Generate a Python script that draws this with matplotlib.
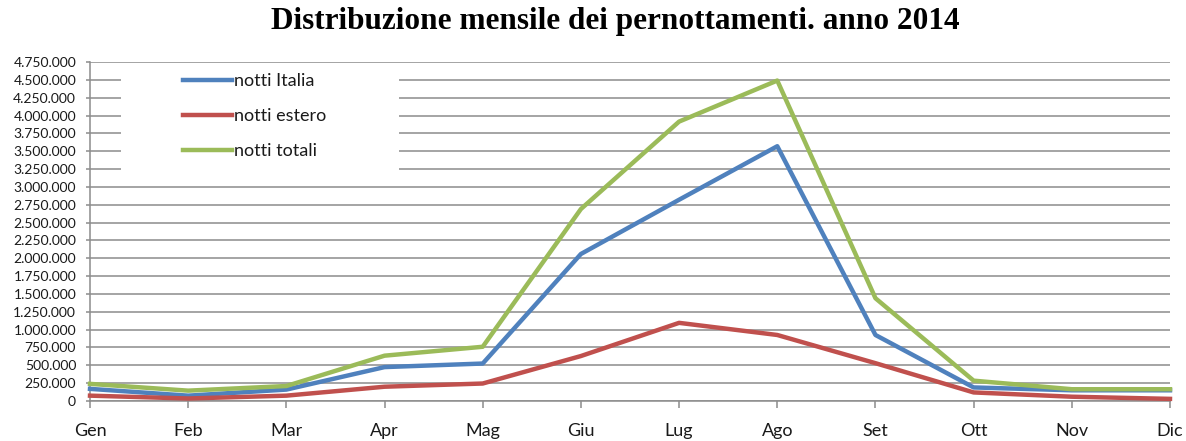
import matplotlib
matplotlib.use('Agg')
import matplotlib.pyplot as plt
from matplotlib.ticker import FuncFormatter, MultipleLocator
from matplotlib.patches import Rectangle

# monthly overnight stays, 2014
mesi = ['Gen', 'Feb', 'Mar', 'Apr', 'Mag', 'Giu', 'Lug', 'Ago', 'Set', 'Ott', 'Nov', 'Dic']
notti_italia = [170000, 75000, 160000, 475000, 525000, 2060000, 2820000, 3570000, 925000, 190000, 150000, 150000]
notti_estero = [75000, 35000, 75000, 200000, 245000, 630000, 1095000, 925000, 530000, 120000, 60000, 30000]
notti_totali = [240000, 145000, 210000, 635000, 760000, 2690000, 3915000, 4490000, 1440000, 285000, 165000, 165000]


def dotted_thousands(v, pos):
    return f"{int(round(v)):,}".replace(",", ".")


def main():
    fig = plt.figure(figsize=(11.86, 4.41), dpi=100)
    ax = fig.add_axes([90 / 1186, 40 / 441, 1080 / 1186, 339 / 441])

    x = list(range(len(mesi)))
    ax.plot(x, notti_italia, color='#4F81BD', lw=3.2, label='notti Italia', clip_on=False, zorder=4)
    ax.plot(x, notti_estero, color='#C0504D', lw=3.2, label='notti estero', clip_on=False, zorder=4)
    ax.plot(x, notti_totali, color='#9BBB59', lw=3.2, label='notti totali', clip_on=False, zorder=4)

    ax.set_xlim(0, 11)
    ax.set_ylim(0, 4750000)
    ax.yaxis.set_major_locator(MultipleLocator(250000))
    ax.yaxis.set_major_formatter(FuncFormatter(dotted_thousands))
    ax.set_xticks(x)
    ax.set_xticklabels(mesi)

    # grid and axis look
    ax.grid(axis='y', color='#8c8c8c', lw=1.1, zorder=1)
    ax.set_axisbelow(True)
    for s in ['top', 'right']:
        ax.spines[s].set_visible(False)
    for s in ['left', 'bottom']:
        ax.spines[s].set_color('#8c8c8c')
        ax.spines[s].set_linewidth(1.1)
    ax.tick_params(axis='y', direction='out', length=3, width=1.1, color='#8c8c8c',
                   labelsize=10, labelcolor='#1a1a1a', pad=7)
    ax.tick_params(axis='x', direction='out', length=5, width=1.1, color='#8c8c8c',
                   labelsize=13, labelcolor='#1a1a1a', pad=11)
    for lab in ax.get_yticklabels() + ax.get_xticklabels():
        lab.set_fontfamily('Lato')

    # white box behind the legend, covering the grid lines
    box = Rectangle(((121 - 90) / 1080, (401 - 176) / 339), (399 - 121) / 1080, (176 - 63) / 339,
                    transform=ax.transAxes, facecolor='white', edgecolor='none', zorder=2)
    ax.add_patch(box)

    leg = ax.legend(loc='upper left', bbox_to_anchor=((176 - 90) / 1080, (401 - 66) / 339),
                    frameon=False, prop={'family': 'Lato', 'size': 13},
                    handlelength=2.7, handletextpad=0.1, labelspacing=1.05, borderaxespad=0)
    for t in leg.get_texts():
        t.set_color('#1a1a1a')

    fig.text(615 / 1186, 1 - 22 / 441, 'Distribuzione mensile dei pernottamenti. anno 2014',
             ha='center', va='center', family='Liberation Serif', weight='bold', fontsize=22.5)

    fig.savefig('out.png', dpi=100)


if __name__ == "__main__":
    main()
